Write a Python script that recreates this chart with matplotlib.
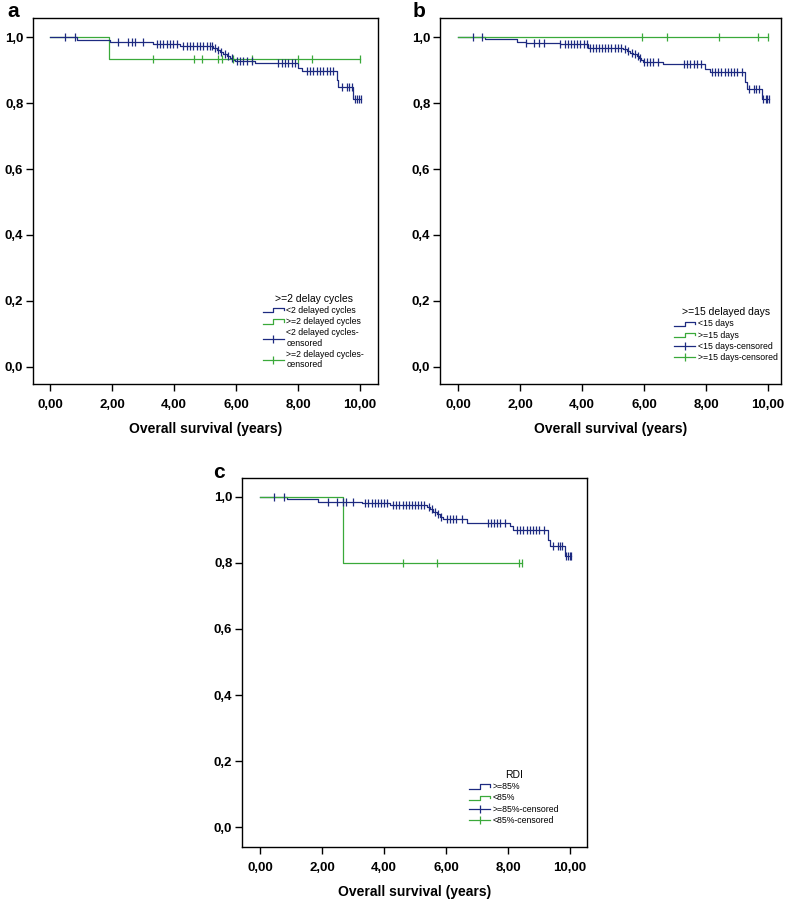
import numpy as np
import matplotlib
matplotlib.use("Agg")
import matplotlib.pyplot as plt
from matplotlib.lines import Line2D
from matplotlib.legend_handler import HandlerBase

plt.rcParams['font.family'] = ['Liberation Sans', 'DejaVu Sans']

BLUE = '#1d2a80'
GREEN = '#3aa93a'

x_ticks = [0, 2, 4, 6, 8, 10]
x_tick_labels = ['0,00', '2,00', '4,00', '6,00', '8,00', '10,00']
y_ticks = [0.0, 0.2, 0.4, 0.6, 0.8, 1.0]
y_tick_labels = ['0,0', '0,2', '0,4', '0,6', '0,8', '1,0']

# ---------------- Panel a ----------------
a_blue_times = [0, 0.86, 1.94, 3.33, 4.19, 5.27, 5.38, 5.48, 5.59, 5.70, 5.81, 5.91, 5.97, 6.61, 8.01, 8.12, 9.25, 9.30, 9.78]
a_blue_surv = [1.0, 0.992, 0.985, 0.980, 0.973, 0.967, 0.960, 0.955, 0.949, 0.944, 0.937, 0.931, 0.928, 0.921, 0.906, 0.897, 0.869, 0.848, 0.811]
a_blue_end = 10.03
a_blue_cens = [0.48, 0.81, 2.20, 2.53, 2.63, 2.74, 3.01, 3.44, 3.55, 3.66, 3.76, 3.87, 3.98, 4.09,
               4.30, 4.41, 4.52, 4.62, 4.73, 4.84, 4.95, 5.05, 5.16, 5.22, 5.33, 5.43, 5.53, 5.64, 5.75, 5.86,
               6.02, 6.13, 6.24, 6.34, 6.51, 7.37, 7.47, 7.58, 7.69, 7.80, 7.90,
               8.28, 8.39, 8.49, 8.60, 8.71, 8.82, 8.92, 9.03, 9.14, 9.41, 9.57, 9.66, 9.73,
               9.84, 9.91, 9.98, 10.03]
a_green_times = [0, 1.91]
a_green_surv = [1.0, 0.934]
a_green_end = 10.0
a_green_cens = [3.31, 4.66, 4.90, 5.43, 5.54, 5.91, 6.50, 8.01, 8.44, 10.0]
a_title = '>=2 delay cycles'
a_labels = ['<2 delayed cycles', '>=2 delayed cycles', '<2 delayed cycles-\ncensored', '>=2 delayed cycles-\ncensored']

# ---------------- Panel b ----------------
b_blue_times = [0, 0.87, 1.89, 2.19, 3.29, 4.20, 5.33, 5.44, 5.55, 5.66, 5.76, 5.84, 5.91, 5.97, 6.62, 7.97, 8.13, 9.26, 9.33, 9.80]
b_blue_surv = [1.0, 0.993, 0.985, 0.982, 0.979, 0.968, 0.963, 0.958, 0.953, 0.948, 0.942, 0.936, 0.931, 0.925, 0.917, 0.904, 0.894, 0.864, 0.843, 0.811]
b_blue_end = 10.03
b_blue_cens = [0.49, 0.76, 2.20, 2.45, 2.60, 2.77, 3.30, 3.45, 3.55, 3.65, 3.75, 3.85, 3.95, 4.05, 4.15,
               4.25, 4.35, 4.45, 4.55, 4.65, 4.75, 4.85, 4.95, 5.05, 5.15, 5.25, 5.40, 5.50, 5.60, 5.70, 5.80, 5.88,
               6.00, 6.10, 6.20, 6.30, 6.45, 7.30, 7.40, 7.50, 7.60, 7.70, 7.85,
               8.20, 8.30, 8.40, 8.50, 8.60, 8.70, 8.80, 8.90, 9.00, 9.15, 9.40, 9.55, 9.62, 9.70,
               9.85, 9.92, 9.97, 10.03]
b_green_times = [0]
b_green_surv = [1.0]
b_green_end = 10.0
b_green_cens = [5.92, 6.75, 8.43, 9.67, 10.0]
b_title = '>=15 delayed days'
b_labels = ['<15 days', '>=15 days', '<15 days-censored', '>=15 days-censored']

# ---------------- Panel c ----------------
c_blue_times = [0, 0.86, 1.88, 3.28, 4.19, 5.38, 5.48, 5.59, 5.70, 5.80, 5.90, 6.67, 8.06, 8.17, 9.30, 9.35, 9.85]
c_blue_surv = [1.0, 0.992, 0.985, 0.982, 0.974, 0.968, 0.962, 0.955, 0.947, 0.939, 0.932, 0.922, 0.911, 0.899, 0.870, 0.850, 0.820]
c_blue_end = 10.03
c_blue_cens = [0.46, 0.77, 2.20, 2.50, 2.68, 2.79, 3.01, 3.40, 3.50, 3.60, 3.70, 3.80, 3.90, 4.00, 4.10,
               4.30, 4.40, 4.50, 4.60, 4.70, 4.80, 4.90, 5.00, 5.10, 5.20, 5.30, 5.45, 5.55, 5.65, 5.75, 5.85,
               6.02, 6.12, 6.22, 6.32, 6.52, 7.35, 7.45, 7.55, 7.65, 7.75, 7.90,
               8.30, 8.40, 8.50, 8.60, 8.70, 8.80, 8.90, 9.00, 9.15, 9.45, 9.60, 9.68, 9.75,
               9.88, 9.94, 10.00, 10.03]
c_green_times = [0, 2.67]
c_green_surv = [1.0, 0.80]
c_green_end = 8.44
c_green_cens = [4.62, 5.72, 8.37, 8.44]
c_title = 'RDI'
c_labels = ['>=85%', '<85%', '>=85%-censored', '<85%-censored']


class StepHandler(HandlerBase):
    def create_artists(self, legend, orig_handle, xdescent, ydescent, width, height, fontsize, trans):
        x0 = -xdescent
        x1 = x0 + width
        y0 = -ydescent + height * 0.1
        y1 = -ydescent + height * 0.8
        xm = x0 + width * 0.5
        xs = [x0, xm, xm, x1, x1]
        ys = [y0, y0, y1, y1, y0 + (y1 - y0) * 0.45]
        ln = Line2D(xs, ys, color=orig_handle.get_color(), lw=orig_handle.get_linewidth(), transform=trans)
        return [ln]


def step_value(times, surv, t):
    idx = np.searchsorted(np.asarray(times), t, side='right') - 1
    return np.asarray(surv)[idx]


def draw_curve(ax, times, surv, end, cens, color):
    xs = list(times) + [end]
    ys = list(surv) + [surv[-1]]
    ax.step(xs, ys, where='post', color=color, lw=0.9, zorder=3)
    cens = np.asarray(cens)
    cy = step_value(times, surv, cens)
    ax.plot(cens, cy, linestyle='none', marker='|', markersize=5.5, mew=0.9, color=color, zorder=4)


def setup(ax, letter, xlim, ylim):
    ax.set_xlim(*xlim)
    ax.set_ylim(*ylim)
    ax.set_xticks(x_ticks)
    ax.set_xticklabels(x_tick_labels, fontweight='bold', fontsize=9.5)
    ax.set_yticks(y_ticks)
    ax.set_yticklabels(y_tick_labels, fontweight='bold', fontsize=9.5)
    ax.tick_params(direction='out', length=5, width=1.0, color='black')
    ax.tick_params(axis='x', pad=6)
    ax.tick_params(axis='y', pad=2)
    for sp in ax.spines.values():
        sp.set_linewidth(1.0)
        sp.set_color('black')
    ax.set_xlabel('Overall survival (years)', fontweight='bold', fontsize=10, labelpad=8)


def add_legend(ax, title, labels, anchor):
    h1 = Line2D([], [], color=BLUE, lw=0.9)
    h2 = Line2D([], [], color=GREEN, lw=0.9)
    h3 = Line2D([], [], color=BLUE, lw=0.9, marker='|', markersize=6, mew=0.9)
    h4 = Line2D([], [], color=GREEN, lw=0.9, marker='|', markersize=6, mew=0.9)
    leg = ax.legend([h1, h2, h3, h4], labels, title=title, loc='lower right', bbox_to_anchor=anchor,
                    frameon=False, fontsize=6.3, title_fontsize=7.5, handlelength=2.4,
                    handletextpad=0.3, labelspacing=0.25, borderpad=0, borderaxespad=0,
                    handler_map={h1: StepHandler(), h2: StepHandler()})
    return leg


fig = plt.figure(figsize=(7.87, 9.0), dpi=100)
W, H = 787.0, 900.0

ax_a = fig.add_axes([33 / W, 1 - 384 / H, 345 / W, 366 / H])
ax_b = fig.add_axes([440 / W, 1 - 384 / H, 341 / W, 366 / H])
ax_c = fig.add_axes([242 / W, 1 - 847 / H, 345 / W, 369 / H])

draw_curve(ax_a, a_green_times, a_green_surv, a_green_end, a_green_cens, GREEN)
draw_curve(ax_a, a_blue_times, a_blue_surv, a_blue_end, a_blue_cens, BLUE)
setup(ax_a, 'a', (-0.55, 10.58), (-0.052, 1.058))
add_legend(ax_a, a_title, a_labels, (0.96, 0.04))

draw_curve(ax_b, b_blue_times, b_blue_surv, b_blue_end, b_blue_cens, BLUE)
draw_curve(ax_b, b_green_times, b_green_surv, b_green_end, b_green_cens, GREEN)
setup(ax_b, 'b', (-0.58, 10.42), (-0.052, 1.058))
add_legend(ax_b, b_title, b_labels, (0.99, 0.06))

draw_curve(ax_c, c_blue_times, c_blue_surv, c_blue_end, c_blue_cens, BLUE)
draw_curve(ax_c, c_green_times, c_green_surv, c_green_end, c_green_cens, GREEN)
setup(ax_c, 'c', (-0.58, 10.55), (-0.06, 1.057))
add_legend(ax_c, c_title, c_labels, (0.92, 0.06))

fig.text(7 / W, 1 - 17 / H, 'a', fontsize=15, fontweight='bold', ha='left', va='baseline')
fig.text(413 / W, 1 - 17 / H, 'b', fontsize=15, fontweight='bold', ha='left', va='baseline')
fig.text(213 / W, 1 - 478 / H, 'c', fontsize=15, fontweight='bold', ha='left', va='baseline')

fig.savefig('out.png', dpi=100)
